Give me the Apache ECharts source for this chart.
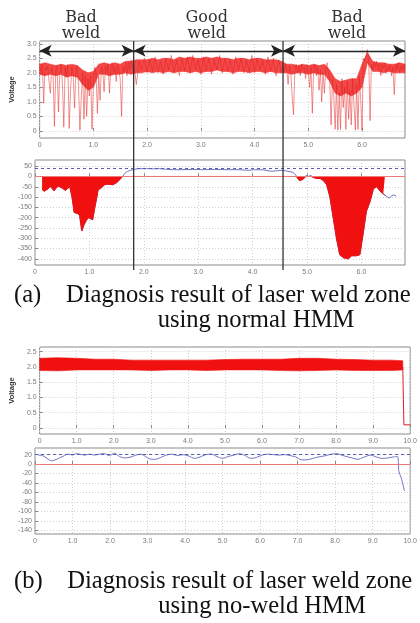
<!DOCTYPE html>
<html>
<head>
<meta charset="utf-8">
<script src="https://cdn.jsdelivr.net/npm/echarts@6/dist/echarts.min.js"></script>
<style>
    html, body { margin: 0; padding: 0; background: #fff; }
    #main { width: 420px; height: 623px; }
</style>
</head>
<body>
<div id="main"></div>
<script>
// ---- (a) voltage signal ----
var zoneBounds = [1.75, 4.53];            // black separators (s)
var zoneNames = ['Bad\nweld', 'Good\nweld', 'Bad\nweld'];
var zoneLabelAt = [0.77, 3.11, 5.72];     // where each name sits (s)
var arrowLevel = 2.76;

// dense band envelope, every 0.1 s from 0 to 6.8
var bandLow1 = [1.95,1.9,1.95,1.9,1.95,1.85,1.9,1.85,1.6,1.4, 1.5,1.95,1.95,1.9,1.95,1.95,2.0,1.95,2.0,2.0,
    2.05,2.0,2.05,2.0,2.05,2.0,2.05,2.05,2.0,2.05, 2.0,2.05,2.05,2.1,2.05,2.05,2.0,2.05,2.05,2.0,
    2.05,2.05,2.0,2.05,2.0,2.0,2.0,1.95,2.0,2.0, 1.95,2.0,1.95,1.95,1.7,1.3,1.2,1.3,1.2,1.3,
    1.5,2.35,2.05,2.05,2.0,2.05,2.0,2.0,2.0];
var bandHigh1 = [2.3,2.35,2.3,2.25,2.3,2.25,2.3,2.25,2.1,2.0, 2.05,2.3,2.35,2.3,2.35,2.3,2.4,2.4,2.45,2.45,
    2.45,2.5,2.45,2.5,2.5,2.45,2.55,2.5,2.55,2.5, 2.5,2.55,2.5,2.55,2.5,2.5,2.45,2.5,2.5,2.45,
    2.5,2.5,2.45,2.45,2.45,2.4,2.3,2.3,2.25,2.3, 2.25,2.3,2.25,2.3,2.1,1.8,1.7,1.75,1.8,1.8,
    2.3,2.7,2.4,2.35,2.35,2.3,2.3,2.35,2.3];

// spiky trace: first bad zone (0..1.75, every 0.025 s)
var voltBadA = [2.2,2.05,2.3,0.95,2.2,2.1,2.25,1.7,1.3,2.2, 2.0,0.15,2.1,2.25,0.65,2.0,2.3,1.6,0.12,2.2,
    1.9,2.3,0.08,1.4,2.2,1.9,0.78,2.1,2.25,1.5, 0.02,1.2,2.0,0.4,1.9,0.5,1.8,1.2,1.9,0.05,
    1.6,2.2,2.0,0.6,1.9,1.05,2.2,2.1,1.35,2.25, 2.0,2.3,1.3,2.1,2.35,2.0,2.2,1.7,2.3,2.1,
    1.8,0.5,2.2,2.05,2.35,1.9,2.4,2.1,2.45,2.15, 2.35];
// good zone (1.80..4.50, every 0.05 s)
var voltGood = [1.6,2.4,2.1,2.5,2.0,2.45,2.05,2.55,2.0,2.4, 1.95,2.5,2.1,2.6,2.0,2.45,1.9,2.5,2.05,2.55,
    2.0,2.6,2.1,2.45,1.95,2.55,2.05,2.5,1.95,2.45, 2.1,2.6,2.0,2.5,2.05,2.45,1.95,2.55,2.1,2.5,
    2.0,2.45,2.05,2.6,2.0,2.5,2.1,2.45,1.95,2.55, 2.05,2.5,1.9,2.45,2.0];
// second bad zone (4.525..6.8, every 0.025 s)
var voltBadB = [2.2,2.0,2.3,2.1,1.6,2.25,2.0,1.2,0.55,2.1, 2.3,2.0,2.25,1.9,2.3,2.1,2.2,1.8,2.3,2.05,
    1.5,2.2,0.6,2.1,2.3,1.9,2.2,1.4,2.1,1.0, 2.0,1.3,2.2,2.35,2.0,1.7,0.2,1.8,1.2,0.05,
    1.6,0.02,1.3,0.05,1.8,0.8,1.5,0.05,1.7,0.4, 1.4,0.2,1.8,0.9,0.02,1.6,0.05,1.9,1.1,0.02,
    2.5,2.4,2.6,2.8,2.45,0.35,2.3,2.1,2.35,2.2, 2.4,2.1,2.3,1.9,2.3,2.15,2.35,2.0,2.25,2.1,
    2.3,1.9,2.2,1.25,2.3,2.1,2.35,2.0,2.25,2.1, 2.3,2.15];

// ---- (a) HMM score ----
var scoreX2 = [0.13,0.17,0.20,0.24,0.28,0.32,0.35,0.39,0.43,0.47,0.52,0.56,0.60,0.64,0.68,0.72,0.78,0.82,0.86,0.90,
    0.94,0.98,1.02,1.06,1.10,1.13,1.16,1.22,1.28,1.35,1.43,1.50,1.56,1.61,1.65,1.70,1.76,1.85,1.92,2.05,
    2.20,2.29,2.40,2.55,2.70,2.90,3.10,3.30,3.55,3.75,3.92,4.05,4.20,4.35,4.45,4.55,4.65,4.74,4.80,4.86,
    4.92,4.98,5.02,5.07,5.12,5.18,5.24,5.30,5.36,5.42,5.48,5.54,5.60,5.67,5.76,5.82,5.91,5.97,6.03,6.09,
    6.16,6.22,6.28,6.34,6.40,6.43,6.48,6.52,6.56,6.60,6.64];
var scoreY2 = [-63,-72,-70,-60,-48,-60,-70,-55,-48,-52,-60,-68,-58,-50,-100,-175,-180,-190,-265,-235,
    -215,-200,-205,-210,-150,-110,-65,-55,-40,-38,-40,-30,-15,0,15,25,30,36,38,38,
    37,38,35,33,33,34,33,34,33,33,30,33,32,25,28,30,25,20,5,-20,
    -15,5,0,5,-5,-10,-10,-20,-40,-100,-200,-300,-380,-395,-400,-385,-385,-380,-280,-170,
    -120,-60,-50,-70,-85,-90,-100,-105,-92,-90,-96];
var fillEnd2 = 6.43;
var threshold2 = 42;

// ---- (b) voltage signal ----
var bandX3 = [0,0.5,1.0,1.5,2.0,2.5,3.0,3.5,4.0,4.5,5.0,5.5,6.0,6.5,7.0,7.5,8.0,8.5,9.0,9.5,9.8];
var bandLow3 = [1.88,1.87,1.9,1.9,1.9,1.9,1.88,1.9,1.9,1.88,1.9,1.9,1.9,1.88,1.87,1.88,1.9,1.88,1.88,1.88,1.9];
var bandHigh3 = [2.28,2.3,2.28,2.25,2.25,2.22,2.22,2.22,2.22,2.22,2.24,2.25,2.25,2.25,2.28,2.28,2.25,2.24,2.22,2.22,2.2];
var dropX3 = [9.8, 9.83, 10.0];
var dropY3 = [2.0, 0.1, 0.1];

// ---- (b) HMM score ----
var scoreX4 = [0.08,0.20,0.32,0.44,0.60,0.76,0.88,1.00,1.10,1.19,1.32,1.46,1.59,1.72,1.85,1.98,2.12,2.25,2.38,2.56,
    2.69,2.82,2.95,3.05,3.20,3.35,3.50,3.65,3.80,3.95,4.10,4.25,4.40,4.55,4.70,4.85,5.00,5.15,5.30,5.45,
    5.60,5.75,5.90,6.05,6.20,6.35,6.50,6.65,6.80,6.95,7.10,7.25,7.40,7.55,7.70,7.85,8.00,8.10,8.25,8.45,
    8.60,8.75,8.95,9.10,9.25,9.40,9.55,9.66,9.70,9.76,9.85];
var scoreY4 = [19,18,12,7,11,17,21,19,22,21,19,21,19,21,22,18,23,16,13,15,
    19,21,16,11,10,14,19,21,18,20,17,12,15,20,21,16,12,16,19,22,
    18,12,14,19,21,20,19,20,18,15,9,9,12,15,17,20,22,21,17,13,
    10,14,19,15,12,13,15,16,-16,-29,-57];
var threshold4 = 20;

// tick labels
var xTicksA = [0, 1, 2, 3, 4, 5, 6];
var xTicksB = [0, 1, 2, 3, 4, 5, 6, 7, 8, 9, 10];
var yTicks1 = [0, 0.5, 1.0, 1.5, 2.0, 2.5, 3.0];
var yTicks2 = [-400, -350, -300, -250, -200, -150, -100, -50, 0, 50];
var yTicks3 = [0, 0.5, 1.0, 1.5, 2.0, 2.5];
var yTicks4 = [-140, -120, -100, -80, -60, -40, -20, 0, 20];

var captions = [
    '(a)    Diagnosis result of laser weld zone', 'using normal HMM',
    '(b)    Diagnosis result of laser weld zone', 'using no-weld HMM'
];

function timeBase(start, step, n) {
    var t = [];
    for (var i = 0; i < n; i++) t.push(+(start + i * step).toFixed(3));
    return t;
}
function zip(xs, ys) {
    return xs.map(function (x, i) { return [x, ys[i]]; });
}

var RED = '#f01010';
var BLUE = '#6f76c6';
var labelFont = {color: '#7a7a7a', fontSize: 7, fontFamily: 'Liberation Sans'};

function fmt1(v) { return v === 0 ? '0' : v.toFixed(1); }
function fmt0(v) { return String(v); }

function xAxis(grid, max, ticks) {
    return {
        type: 'value', gridIndex: grid, min: 0, max: max,
        axisLine: {show: false},
        axisTick: {inside: true, length: 3, lineStyle: {color: '#888'}, customValues: ticks},
        axisLabel: Object.assign({formatter: fmt1, margin: 4, customValues: ticks}, labelFont),
        splitLine: {show: true, lineStyle: {color: '#cfcfcf', type: [1, 2]}}
    };
}
function yAxis(grid, min, max, ticks, f, name) {
    return {
        type: 'value', gridIndex: grid, min: min, max: max,
        name: name || '', nameLocation: 'middle', nameGap: 20,
        nameTextStyle: {fontSize: 7.5, fontWeight: 'bold', color: '#333', fontFamily: 'Liberation Sans'},
        axisLine: {show: false},
        axisTick: {inside: true, length: 3, lineStyle: {color: '#888'}, customValues: ticks},
        axisLabel: Object.assign({formatter: f, margin: 3, customValues: ticks}, labelFont),
        splitLine: {show: true, lineStyle: {color: '#cfcfcf', type: [1, 2]}}
    };
}

// filled envelope between low and high, drawn through the axes' scales
function bandSeries(axis, xs, lows, highs, color, opacity) {
    return {
        type: 'custom', xAxisIndex: axis, yAxisIndex: axis, silent: true, z: 1,
        data: [[xs[0], lows[0], highs[0]]],
        encode: {x: 0, y: [1, 2]},
        renderItem: function (params, api) {
            var pts = [];
            for (var i = 0; i < xs.length; i++) pts.push(api.coord([xs[i], highs[i]]));
            for (var j = xs.length - 1; j >= 0; j--) pts.push(api.coord([xs[j], lows[j]]));
            return {type: 'polygon', shape: {points: pts},
                style: {fill: color, opacity: opacity, stroke: color, lineWidth: 0.6}};
        }
    };
}

var tBand1 = timeBase(0, 0.1, bandLow1.length);
var tVolt1 = timeBase(0, 0.025, voltBadA.length)
    .concat(timeBase(1.80, 0.05, voltGood.length))
    .concat(timeBase(4.525, 0.025, voltBadB.length));
var volt1 = voltBadA.concat(voltGood).concat(voltBadB);

var fill2 = [];
scoreX2.forEach(function (x, i) {
    if (x <= fillEnd2) fill2.push([x, Math.min(scoreY2[i], 0)]);
});

var arrowData = [];
var edges = [0].concat(zoneBounds).concat([6.8]);
for (var k = 0; k < edges.length - 1; k++) {
    arrowData.push([{coord: [edges[k], arrowLevel]}, {coord: [edges[k + 1], arrowLevel]}]);
}

var gridBox = {show: true, borderColor: '#8a8a8a', borderWidth: 1, backgroundColor: '#fff'};

var option = {
    animation: false,
    grid: [
        Object.assign({left: 35, right: 15, top: 41, height: 97}, gridBox),
        Object.assign({left: 35, right: 15, top: 160, height: 105}, gridBox),
        Object.assign({left: 35, right: 7, top: 347, height: 87}, gridBox),
        Object.assign({left: 35, right: 7, top: 448, height: 86}, gridBox)
    ],
    xAxis: [
        xAxis(0, 6.8, xTicksA),
        xAxis(1, 6.8, xTicksA),
        xAxis(2, 10, xTicksB),
        xAxis(3, 10, xTicksB)
    ],
    yAxis: [
        yAxis(0, -0.25, 3.1, yTicks1, fmt1, 'Voltage'),
        yAxis(1, -430, 80, yTicks2, fmt0),
        yAxis(2, -0.2, 2.65, yTicks3, fmt1, 'Voltage'),
        yAxis(3, -148, 34, yTicks4, fmt0)
    ],
    series: [
        // (a) voltage
        bandSeries(0, tBand1, bandLow1, bandHigh1, '#f02828', 0.85),
        {type: 'line', xAxisIndex: 0, yAxisIndex: 0, symbol: 'none', z: 2,
            lineStyle: {color: '#e42020', width: 0.7, opacity: 0.7}, data: zip(tVolt1, volt1),
            markLine: {
                silent: true, symbol: ['arrow', 'arrow'], symbolSize: [9, 12],
                label: {show: false},
                lineStyle: {color: '#222', width: 1.3, type: 'solid', opacity: 1},
                data: arrowData
            }},
        // (a) score
        {type: 'line', xAxisIndex: 1, yAxisIndex: 1, symbol: 'none', z: 2,
            lineStyle: {color: BLUE, width: 1}, data: zip(scoreX2, scoreY2),
            markLine: {
                silent: true, symbol: 'none', label: {show: false},
                data: [
                    {yAxis: 0, lineStyle: {color: '#ef7a7a', width: 1, type: 'solid'}},
                    {yAxis: threshold2, lineStyle: {color: '#5b5bb8', width: 1, type: [3, 3]}}
                ]
            }},
        {type: 'line', xAxisIndex: 1, yAxisIndex: 1, symbol: 'none', z: 3,
            lineStyle: {color: RED, width: 1}, areaStyle: {color: RED, opacity: 1}, data: fill2},
        // (b) voltage
        bandSeries(2, bandX3, bandLow3, bandHigh3, RED, 1),
        {type: 'line', xAxisIndex: 2, yAxisIndex: 2, symbol: 'none', z: 2,
            lineStyle: {color: '#e02020', width: 1}, data: zip(dropX3, dropY3)},
        // (b) score
        {type: 'line', xAxisIndex: 3, yAxisIndex: 3, symbol: 'none', smooth: 0.3,
            lineStyle: {color: BLUE, width: 1}, data: zip(scoreX4, scoreY4),
            markLine: {
                silent: true, symbol: 'none', label: {show: false},
                data: [
                    {yAxis: 0, lineStyle: {color: '#ef7a7a', width: 1, type: 'solid'}},
                    {yAxis: threshold4, lineStyle: {color: '#5b5bb8', width: 1, type: [3, 3]}}
                ]
            }}
    ]
};

var chart = echarts.init(document.getElementById('main'));
chart.setOption(option);

// separators, zone names and captions
var graphics = [];
var topY = chart.convertToPixel({yAxisIndex: 0}, 3.1);
var botY = chart.convertToPixel({yAxisIndex: 1}, -430) + 5;
zoneBounds.forEach(function (b) {
    var px = chart.convertToPixel({xAxisIndex: 0}, b);
    graphics.push({type: 'line', z: 100, shape: {x1: px, y1: topY, x2: px, y2: botY},
        style: {stroke: '#333', lineWidth: 1.3}});
});
zoneNames.forEach(function (name, z) {
    graphics.push({type: 'text', x: chart.convertToPixel({xAxisIndex: 0}, zoneLabelAt[z]), y: 26,
        style: {text: name, fill: '#333', align: 'center', verticalAlign: 'middle',
            font: '16px "DejaVu Serif"', lineHeight: 16}});
});
var capFont = '24.6px "Liberation Serif"';
graphics.push({type: 'text', x: 14, y: 296, style: {text: captions[0], fill: '#111',
    verticalAlign: 'middle', font: capFont}});
graphics.push({type: 'text', x: 256, y: 321, style: {text: captions[1], fill: '#111',
    align: 'center', verticalAlign: 'middle', font: capFont}});
graphics.push({type: 'text', x: 14, y: 582, style: {text: captions[2], fill: '#111',
    verticalAlign: 'middle', font: capFont}});
graphics.push({type: 'text', x: 262, y: 607, style: {text: captions[3], fill: '#111',
    align: 'center', verticalAlign: 'middle', font: capFont}});
chart.setOption({graphic: graphics});
</script>
</body>
</html>
